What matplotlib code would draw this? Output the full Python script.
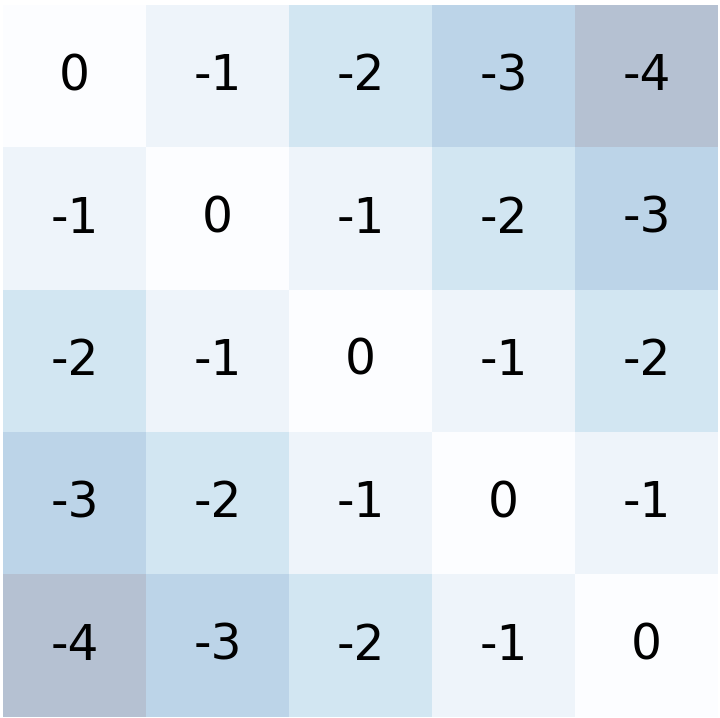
import numpy as np
import matplotlib
matplotlib.use("Agg")
import matplotlib.pyplot as plt

n = 5
rows = list(range(n))
cols = list(range(n))
values = np.array([[-abs(i - j) for j in cols] for i in rows])

fig = plt.figure(figsize=(7.2, 7.18), dpi=100)
ax = fig.add_axes([3 / 720, 1 / 718, 715 / 720, 712 / 718])
ax.imshow(values, cmap='Blues_r', alpha=0.3, vmin=-4, vmax=0, aspect='auto')
for i in rows:
    for j in cols:
        ax.text(j, i, str(values[i, j]), ha='center', va='center',
                fontsize=35, color='black')
ax.axis('off')
fig.savefig("out.png", dpi=100)
